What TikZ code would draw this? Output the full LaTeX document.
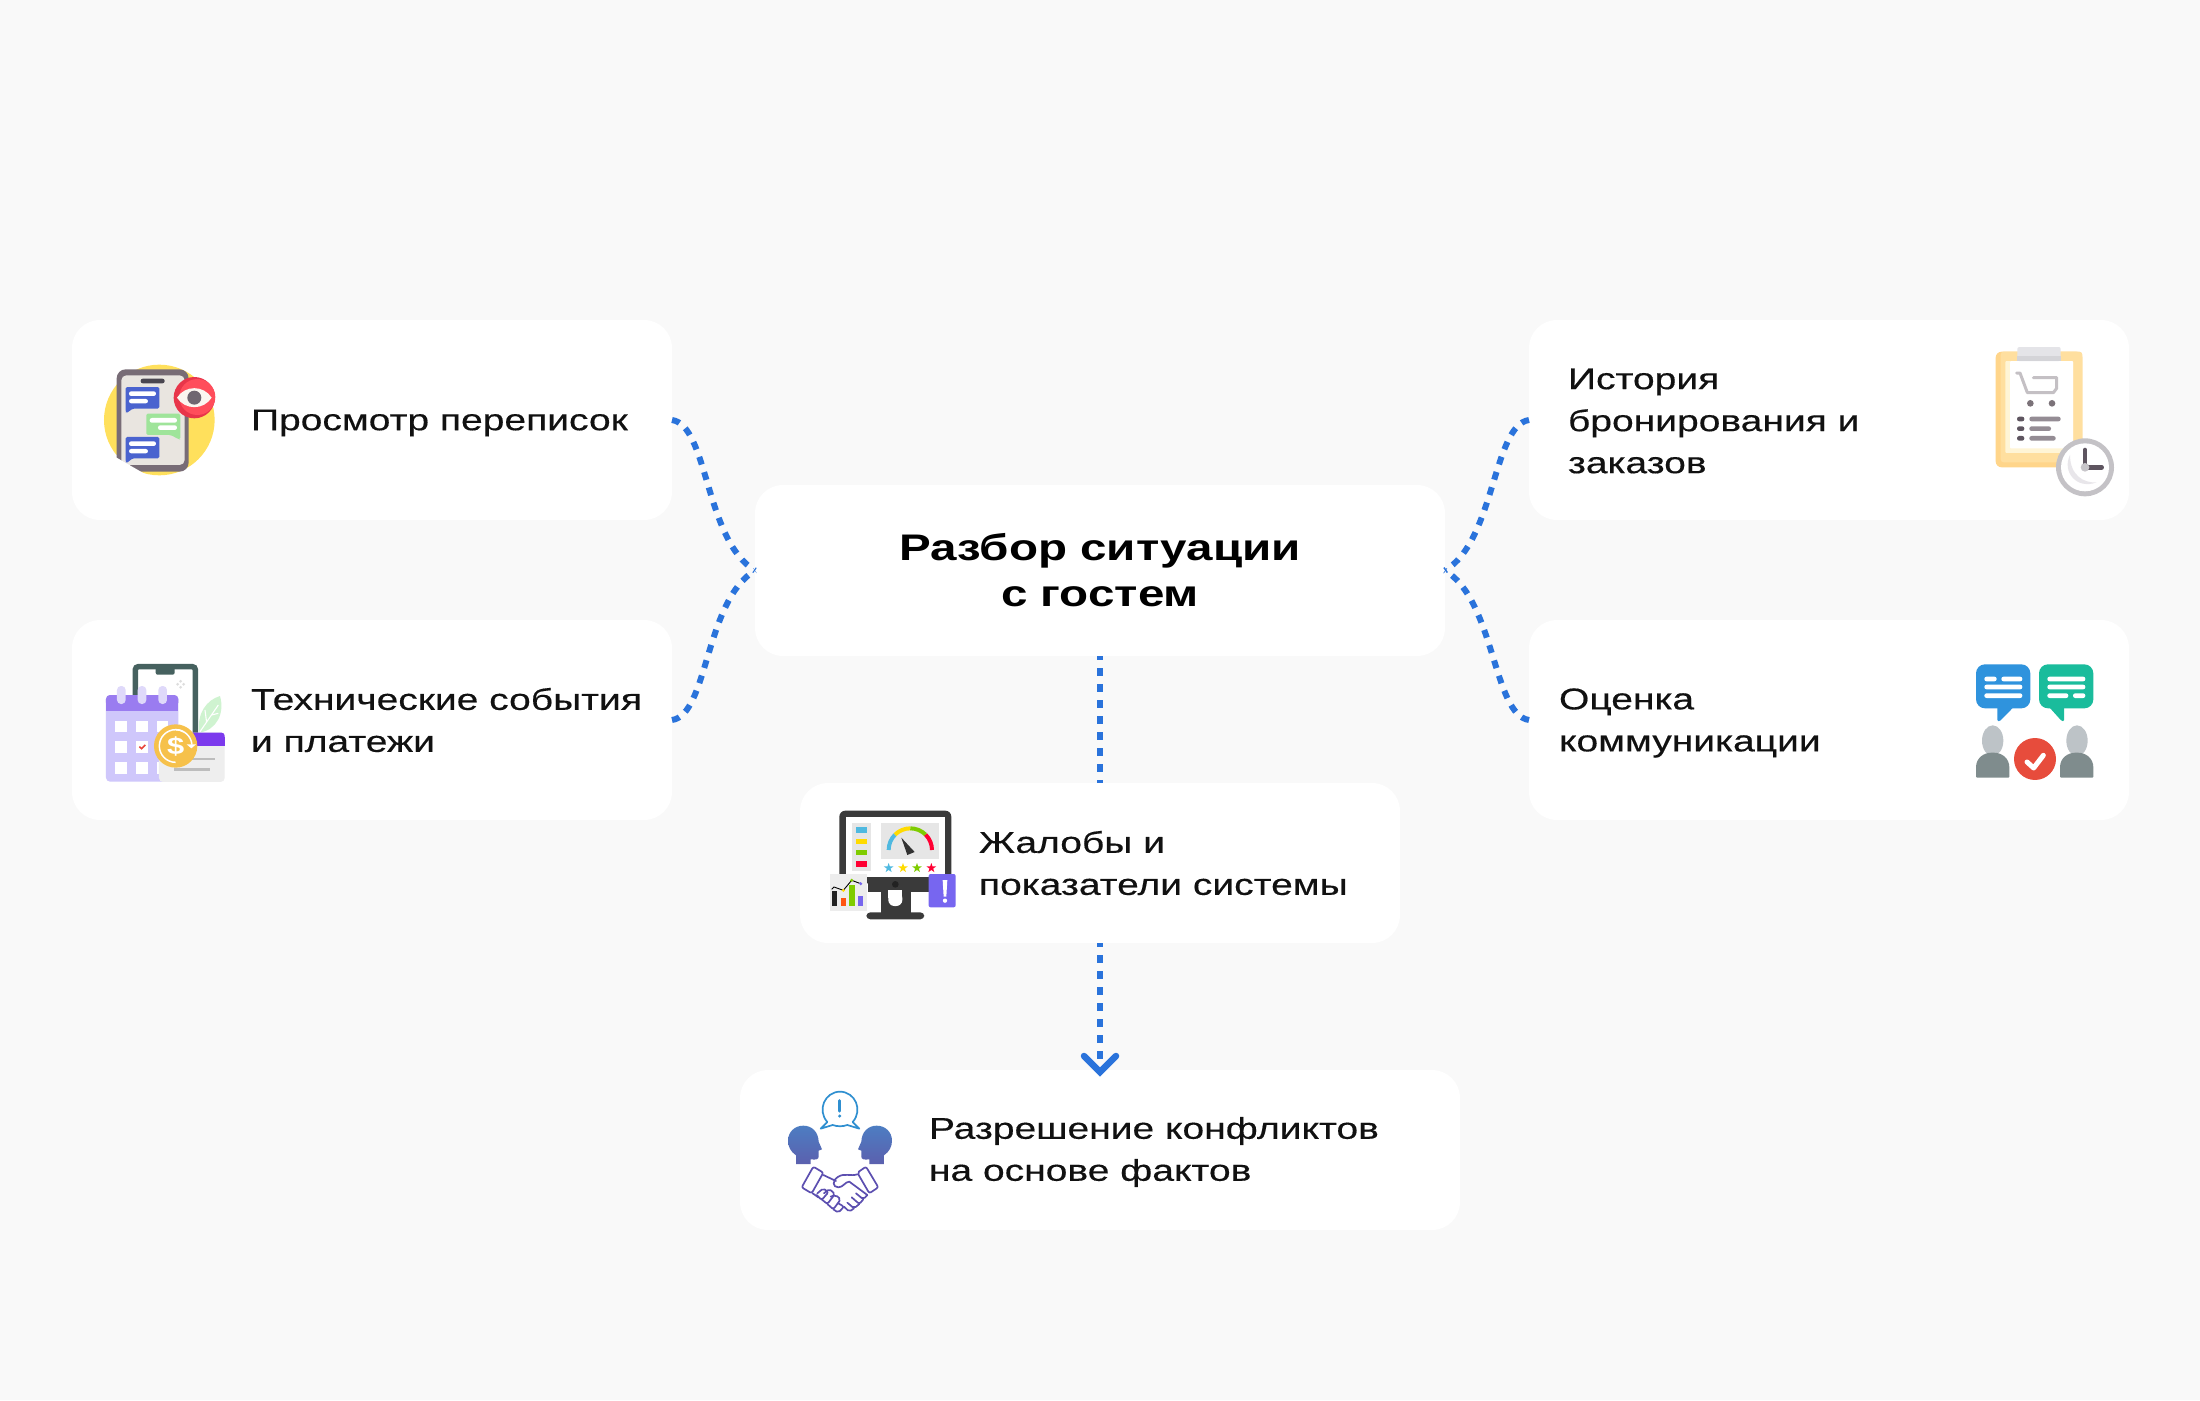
\documentclass[tikz,border=0pt]{standalone}
\usepackage{fontspec}
\setmainfont[FakeStretch=1.30,FakeBold=0.4]{Liberation Sans}
\newfontfamily\titlefont[FakeStretch=1.285]{Liberation Sans Bold}
\usetikzlibrary{calc}
\definecolor{bgc}{HTML}{F9F9F9}
\definecolor{linec}{HTML}{2A73DB}
\definecolor{inkc}{HTML}{111111}
\definecolor{phoneg}{HTML}{46615F}
\definecolor{headt}{HTML}{4D7DC2}
\definecolor{headb}{HTML}{5B60AE}
\tikzset{
  HTML/.code={\definecolor{tmpc}{HTML}{#1}\pgfkeysalso{color=tmpc}},
  card/.style={fill=white,rounded corners=28pt,inner sep=0pt,outer sep=0pt,text width=0pt},
  conn/.style={linec,line width=6pt,dash pattern=on 8pt off 8pt},
  label/.style={anchor=west,align=left,inner sep=0pt,outer sep=0pt,text=inkc,font=\fontsize{30}{42}\selectfont},
  icon/.style={x=0.3333pt,y=-0.3333pt},
  pill/.style={rounded corners=2.2pt},
}
\newcommand{\starshape}[3]{\fill[#3,shift={(#1,#2)}] (-90:15) -- (-54:6) -- (-18:15) -- (18:6) -- (54:15) -- (90:6) -- (126:15) -- (162:6) -- (198:15) -- (234:6) -- cycle;}
\begin{document}
\begin{tikzpicture}[x=1pt,y=-1pt]
\fill[bgc] (0,0) rectangle (2200,1400);
\useasboundingbox (0,0) rectangle (2200,1400);
% cards
\node[card,minimum width=600pt,minimum height=200pt] (l1) at (372,420) {};
\node[card,minimum width=600pt,minimum height=200pt] (l2) at (372,720) {};
\node[card,minimum width=600pt,minimum height=200pt] (r1) at (1829,420) {};
\node[card,minimum width=600pt,minimum height=200pt] (r2) at (1829,720) {};
\node[card,minimum width=690pt,minimum height=171pt] (c) at (1100,570.5) {};
\node[card,minimum width=600pt,minimum height=160pt] (m) at (1100,863) {};
\node[card,minimum width=720pt,minimum height=160pt] (b) at (1100,1150) {};
% labels
\node[label] (tl1) at (251,423) {Просмотр переписок};
\node[label] (tl2) at (251,720) {Технические события\\и платежи};
\node[label] (tr1) at (1568,421) {История\\бронирования и\\заказов};
\node[label] (tr2) at (1559,723) {Оценка\\коммуникации};
\node[label] (tm) at (979,863) {Жалобы и\\показатели системы};
\node[label] (tb) at (929,1152) {Разрешение конфликтов\\на основе фактов};
\node[anchor=center,align=center,inner sep=0pt,outer sep=0pt,text=black,font=\fontsize{37}{46}\selectfont\titlefont] (tc) at (1100,570.5) {Разбор ситуации\\с гостем};
% connectors
\draw[conn] (l1.east) .. controls +(36,5) and +(-50,-30) .. (c.west);
\draw[conn] (l2.east) .. controls +(36,-5) and +(-50,30) .. (c.west);
\draw[conn] (r1.west) .. controls +(-36,5) and +(50,-30) .. (c.east);
\draw[conn] (r2.west) .. controls +(-36,-5) and +(50,30) .. (c.east);
\draw[conn,dash phase=4pt] (c.south) -- (m.north);
\draw[conn,dash phase=4pt] (m.south) -- (b.north);
\coordinate (tip) at ($(b.north)+(0,2)$);
\draw[linec,line width=6.5pt,line cap=round,line join=miter] ($(tip)+(-16,-16)$) -- (tip) -- ($(tip)+(16,-16)$);

% icon 1
\begin{scope}[shift={(80,340)},icon]
\fill[HTML=FFE05C] (238,240) circle (166);
\fill[white] (60,345) -- (112,345) -- (215,420) -- (60,420) -- cycle;
\fill[HTML=786C76,rounded corners=9pt] (110,88) rectangle (326,395);
\fill[HTML=E9E5E0,rounded corners=5pt] (124,106) rectangle (314,375);
\fill[white] (100,352) -- (108,352) -- (200,405) -- (100,405) -- cycle;
\fill[HTML=4A4650,rounded corners=2.2pt] (182,116) rectangle (254,130);
\fill[HTML=4A63CF,rounded corners=1.5pt] (137,141) -- (238,141) -- (238,206) -- (158,206) -- (139,220) -- (137,215) -- cycle;
\fill[white,pill] (147,154) rectangle (228,168);
\fill[white,pill] (147,177) rectangle (204,190);
\fill[HTML=9FE49A,rounded corners=1.5pt] (199,221) -- (301,221) -- (301,298) -- (297,298) -- (272,285) -- (199,285) -- cycle;
\fill[white,pill] (209,234) rectangle (291,248);
\fill[white,pill] (234,256) rectangle (291,270);
\fill[HTML=4A63CF,rounded corners=1.5pt] (137,291) -- (238,291) -- (238,355) -- (158,355) -- (139,370) -- (137,365) -- cycle;
\fill[white,pill] (147,304) rectangle (228,318);
\fill[white,pill] (147,327) rectangle (204,340);
\fill[HTML=E8354A] (343,173) circle (62);
\fill[HTML=FF4D5B] (352,171) circle (54);
\fill[HTML=FBF6F0] (291,173) .. controls (315,135) and (371,135) .. (395,173) .. controls (371,211) and (315,211) .. (291,173) -- cycle;
\fill[HTML=6F6670] (343,173) circle (21);
\end{scope}

% icon 2
\begin{scope}[shift={(90,650)},icon]
\fill[white] (136,270) -- (136,50) -- (316,50) -- (316,270) -- cycle;
\draw[phoneg,line width=5.5pt,rounded corners=3pt] (136,270) -- (136,50) -- (316,50) -- (316,270);
\fill[phoneg,rounded corners=2pt] (197,50) rectangle (254,74);
\foreach \a in {0,90,180,270}{\fill[HTML=DDDDDD,shift={(272,103)}] (\a:9) circle (4.5);}
\fill[HTML=CFF3D0] (328,248) .. controls (320,190) and (350,150) .. (390,138) .. controls (405,190) and (380,240) .. (328,248) -- cycle;
\draw[white,line width=1.1pt] (330,245) -- (385,165) (350,218) -- (345,180) (365,195) -- (385,190);
\fill[HTML=CFC7FB,rounded corners=4pt] (48,135) rectangle (265,395);
\fill[HTML=9A7CF0,rounded corners=4pt] (48,135) rectangle (265,170);
\fill[HTML=9A7CF0] (48,155) rectangle (265,182);
\foreach \x in {94,156,218}{\fill[HTML=DFD9FA,rounded corners=4pt] (\x-13,108) rectangle (\x+13,162);}
\foreach \y in {212,274,336}{\foreach \x in {76,138,200}{\fill[white] (\x,\y) rectangle (\x+35,\y+35);}}
\draw[HTML=E8453C,line width=1.6pt] (148,290) -- (155,296) -- (166,285);
\fill[HTML=EEEEEE,rounded corners=4pt] (207,248) rectangle (404,396);
\fill[HTML=7C3AED,rounded corners=3pt] (280,248) rectangle (404,275);
\fill[HTML=7C3AED] (280,262) rectangle (404,287);
\fill[HTML=BDBDBD] (240,323) rectangle (374,331);
\fill[HTML=BDBDBD] (252,354) rectangle (360,362);
\fill[HTML=F6C14B] (257,288) circle (65);
\draw[white,line width=1.5pt] (257,337) arc (90:300:49);
\draw[white,line width=1.5pt] (257,239) arc (270:355:49);
\fill[white] (290,283) -- (318,283) -- (304,295) -- cycle;
\node[inner sep=0pt,text=white,font=\fontsize{24}{24}\selectfont\titlefont] (coin) at (257,288) {\$};
\end{scope}

% icon 3
\begin{scope}[shift={(1970,335)},icon]
\fill[HTML=FFD58A,rounded corners=6pt] (77,50) rectangle (337,397);
\fill[HTML=FFDF9F,rounded corners=3pt] (92,50) rectangle (337,382);
\fill[HTML=FFF5D6,rounded corners=1pt] (106,78) rectangle (309,354);
\fill[white,rounded corners=1pt] (120,78) rectangle (309,340);
\fill[HTML=E4E4E8,rounded corners=2pt] (142,36) rectangle (272,78);
\fill[HTML=D4D4D8] (142,62) rectangle (272,78);
\draw[HTML=C4C0C4,line width=3pt,line cap=round,line join=round] (140,114) -- (150,114) -- (172,173) -- (250,173) -- (260,160) -- (260,128) -- (190,128);
\fill[HTML=7B7279] (181,205) circle (10);
\fill[HTML=7B7279] (246,205) circle (10);
\foreach \y/\e in {252/272,281/243,310/257}{
  \fill[HTML=5E5560,pill] (141,\y-7) rectangle (163,\y+7);
  \fill[HTML=948C94,pill] (178,\y-7) rectangle (\e,\y+7);
}
\fill[HTML=C4C2C6] (345,397) circle (87);
\fill[white] (345,397) circle (72);
\fill[HTML=E8E6EA] (300,360) .. controls (275,410) and (320,465) .. (380,442) .. controls (340,445) and (300,420) .. (300,360) -- cycle;
\draw[HTML=5E5560,line width=4.6pt,line cap=round] (345,345) -- (345,397) -- (395,397);
\fill[HTML=C8C6CA] (345,397) circle (13);
\end{scope}

% icon 4
\begin{scope}[shift={(1960,650)},icon]
\fill[HTML=2F93DD,rounded corners=9pt] (48,43) rectangle (211,175);
\fill[HTML=2F93DD,rounded corners=1pt] (112,165) -- (112,213) -- (120,213) -- (160,172) -- cycle;
\fill[HTML=1ABC9C,rounded corners=9pt] (237,43) rectangle (400,175);
\fill[HTML=1ABC9C,rounded corners=1pt] (268,172) -- (305,213) -- (312,213) -- (312,165) -- cycle;
\foreach \a/\b/\y in {73/110/87,124/187/87,73/187/111,73/187/137,262/376/87,262/376/111,262/325/137,339/376/137}{
  \fill[white,pill] (\a,\y-7) rectangle (\b,\y+7);
}
\fill[HTML=BDC3C7] (98,272) ellipse (32 and 46);
\fill[HTML=7F8C8D,rounded corners=1pt] (48,383) -- (48,355) .. controls (48,325) and (70,308) .. (98,308) .. controls (126,308) and (148,325) .. (148,355) -- (148,383) -- cycle;
\fill[HTML=BDC3C7] (351,272) ellipse (32 and 46);
\fill[HTML=7F8C8D,rounded corners=1pt] (300,383) -- (300,355) .. controls (300,325) and (322,308) .. (350,308) .. controls (378,308) and (400,325) .. (400,355) -- (400,383) -- cycle;
\fill[HTML=E74C3C] (225,327) circle (63);
\draw[white,line width=5pt,line cap=round,line join=round] (201,336) -- (221,354) -- (250,316);
\end{scope}

% icon 5
\begin{scope}[shift={(820,800)},icon]
\fill[HTML=3A3A3A,rounded corners=6pt] (58,32) rectangle (394,250);
\fill[white] (78,52) rectangle (374,230);
\fill[HTML=3A3A3A] (144,230) rectangle (394,276);
\fill[HTML=3A3A3A] (182,270) rectangle (272,345);
\fill[white,rounded corners=6pt] (205,276) rectangle (247,318);
\fill[white] (205,270) rectangle (247,295);
\fill[HTML=3A3A3A,rounded corners=4pt] (139,337) rectangle (313,358);
\fill[HTML=222222] (226,253) circle (10);
\fill[HTML=E6E6E6] (95,69) rectangle (153,212);
\fill[HTML=4FB9E0] (107,81) rectangle (141,98);
\fill[HTML=FFDB00] (107,116) rectangle (141,132);
\fill[HTML=7FCC00] (107,149) rectangle (141,166);
\fill[HTML=FF0033] (107,183) rectangle (141,200);
\fill[HTML=E6E6E6] (182,69) rectangle (358,177);
\draw[HTML=4FB9E0,line width=4pt] (271,150) ++(180:65) arc (180:225:65);
\draw[HTML=FFDB00,line width=4pt] (271,150) ++(225:65) arc (225:270:65);
\draw[HTML=7FCC00,line width=4pt] (271,150) ++(270:65) arc (270:315:65);
\draw[HTML=FF0033,line width=4pt] (271,150) ++(315:65) arc (315:360:65);
\fill[HTML=333333] (244,113) -- (284,156) -- (262,165) -- cycle;
\starshape{206}{204}{HTML=4FB9E0}
\starshape{249}{204}{HTML=FFDB00}
\starshape{291}{204}{HTML=7FCC00}
\starshape{334}{204}{HTML=FF0033}
\fill[HTML=EDEDED] (31,221) rectangle (141,332);
\fill[HTML=222222] (37,273) rectangle (50,317);
\fill[HTML=FF5511] (62,295) rectangle (77,317);
\fill[HTML=7FCC00] (88,255) rectangle (104,317);
\fill[HTML=7766EE] (114,287) rectangle (129,317);
\draw[black,line width=0.9pt] (35,268) -- (42,261) -- (70,271) -- (95,241) -- (122,251);
\fill[HTML=FFDB00] (70,271) circle (5);
\fill[HTML=7FCC00] (95,241) circle (5);
\fill[HTML=7766EE] (122,251) circle (5);
\fill[HTML=7766F0,rounded corners=2pt] (326,222) rectangle (407,322);
\fill[white] (368,240) -- (382,240) -- (379,290) -- (371,290) -- cycle;
\fill[white] (375,302) circle (6.5);
\end{scope}

% icon 6
\begin{scope}[shift={(770,1080)},icon]
\draw[HTML=2F8FD0,line width=1.7pt,line join=round] (172,126) .. controls (140,90) and (165,35) .. (210,35) .. controls (255,35) and (280,90) .. (248,126) -- (268,146) -- (232,135) .. controls (218,140) and (202,140) .. (188,135) -- (152,146) -- cycle;
\draw[HTML=2F8FD0,line width=3pt,line cap=round] (209,62) -- (209,93);
\fill[HTML=2F8FD0] (209,108) circle (5);
\def\headpath{(78,252) -- (78,226) .. controls (62,215) and (54,200) .. (54,182) .. controls (54,155) and (75,137) .. (100,137) .. controls (125,137) and (145,155) .. (146,185) -- (156,208) -- (146,212) -- (146,230) .. controls (146,238) and (138,240) .. (122,238) -- (122,252) -- cycle}
\shade[top color=headt,bottom color=headb] \headpath;
\shade[top color=headt,bottom color=headb,shift={(420,0)},xscale=-1] \headpath;
\begin{scope}[HTML=5C4FB0,line width=1.7pt,line join=round,line cap=round,rounded corners=2pt]
\draw (130,260) -- (160,278) -- (125,340) -- (95,322) -- cycle;
\draw (288,260) -- (325,322) -- (298,340) -- (262,278) -- cycle;
\draw (160,285) -- (198,303);
\draw[rounded corners=0pt] (262,283) .. controls (240,290) and (225,278) .. (205,290) .. controls (185,302) and (188,322) .. (205,322) .. controls (220,322) and (225,305) .. (238,305) -- (292,345);
\draw (128,340) -- (145,352);
\draw (142,340) -- (160,325) -- (175,337) -- (155,360) -- (140,345);
\draw (162,340) -- (178,327) -- (195,342) -- (172,372) -- (155,358);
\draw (182,350) -- (197,345) -- (212,358) -- (190,388) -- (172,372);
\draw (205,370) -- (222,380) -- (205,398) -- (190,388);
\draw (292,345) -- (280,358) -- (258,340);
\draw (280,358) -- (268,372) -- (245,352);
\draw (268,372) -- (252,385) -- (232,368);
\draw (252,385) -- (238,395) -- (222,380);
\end{scope}
\end{scope}
\end{tikzpicture}
\end{document}
